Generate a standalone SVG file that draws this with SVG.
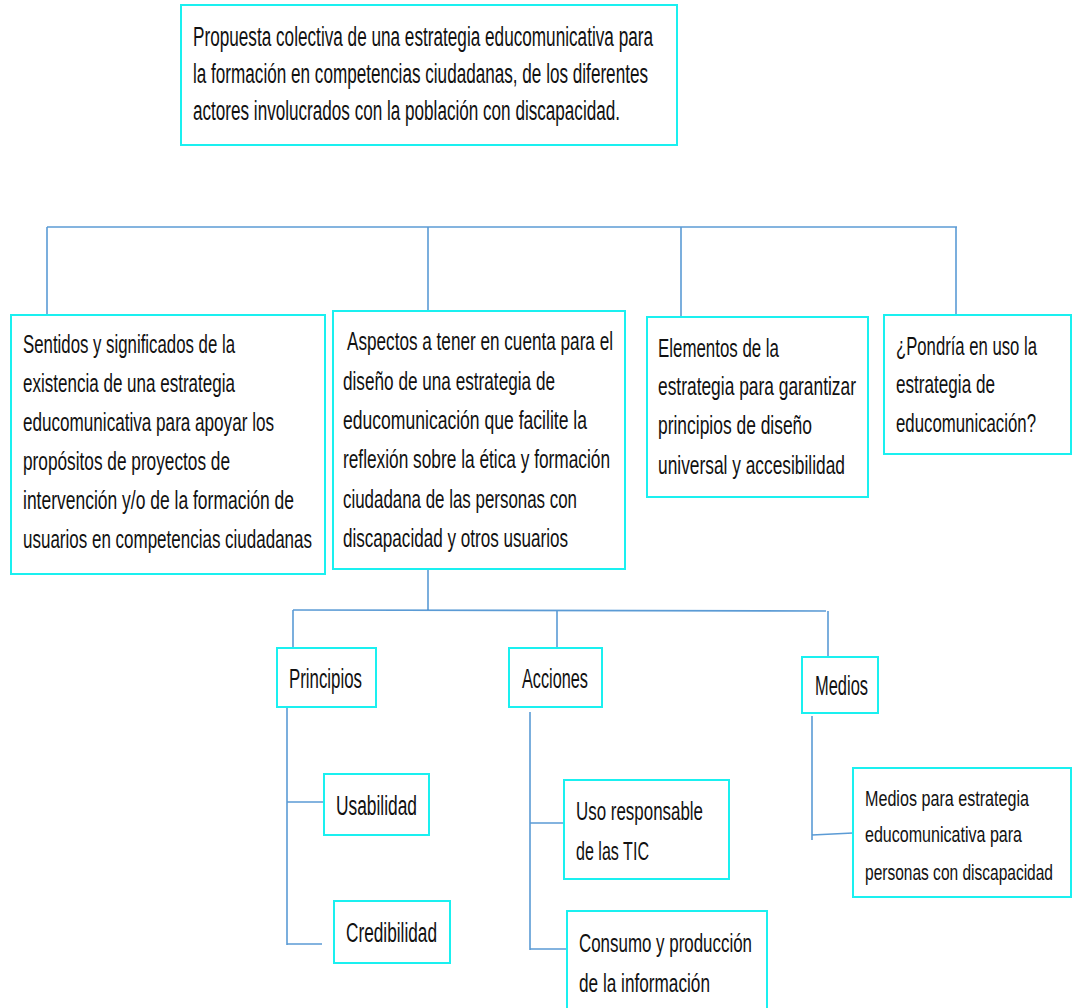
<svg xmlns="http://www.w3.org/2000/svg" width="1073" height="1008" viewBox="0 0 1073 1008">
<style>
.box{fill:#ffffff;stroke:#1AF0F0;stroke-width:2}
.c{fill:none;stroke:#5B9BD5;stroke-width:1.6}
text{font-family:"Liberation Sans",Arial,sans-serif;fill:#111111}
.t27{font-size:27px}
.t26{font-size:26px}
.t22{font-size:22px}
</style>
<rect width="1073" height="1008" fill="#ffffff"/>
<g id="connectors">
<path class="c" d="M47 227H957"/>
<path class="c" d="M47 227V315M428 227V311M681 227V317M956 227V315"/>
<path class="c" d="M428 569V610M293 610L826 611"/>
<path class="c" d="M293 610V648M557 610V648M828 611V657"/>
<path class="c" d="M287 707V945M287 802H324M287 944H322"/>
<path class="c" d="M530 712V950M530 823H564M530 949H566"/>
<path class="c" d="M812 716V840M812 835L853 833"/>
</g>
<g id="node-top">
<rect class="box" x="181" y="5" width="496" height="140"/>
<text class="t27" lengthAdjust="spacingAndGlyphs"><tspan x="193" y="46" textLength="460" lengthAdjust="spacingAndGlyphs">Propuesta colectiva de una estrategia educomunicativa para</tspan></text>
<text class="t27" x="193" y="83" textLength="455" lengthAdjust="spacingAndGlyphs">la formación en competencias ciudadanas, de los diferentes</text>
<text class="t27" x="193" y="120" textLength="427" lengthAdjust="spacingAndGlyphs">actores involucrados con la población con discapacidad.</text>
</g>
<g id="node-sentidos">
<rect class="box" x="11" y="315" width="314" height="259"/>
<text class="t26" x="23" y="353" textLength="212" lengthAdjust="spacingAndGlyphs">Sentidos y significados de la</text>
<text class="t26" x="23" y="392" textLength="212" lengthAdjust="spacingAndGlyphs">existencia de una estrategia</text>
<text class="t26" x="23" y="431" textLength="251" lengthAdjust="spacingAndGlyphs">educomunicativa para apoyar los</text>
<text class="t26" x="23" y="470" textLength="207" lengthAdjust="spacingAndGlyphs">propósitos de proyectos de</text>
<text class="t26" x="23" y="509" textLength="271" lengthAdjust="spacingAndGlyphs">intervención y/o de la formación de</text>
<text class="t26" x="23" y="548" textLength="289" lengthAdjust="spacingAndGlyphs">usuarios en competencias ciudadanas</text>
</g>
<g id="node-aspectos">
<rect class="box" x="333" y="311" width="292" height="258"/>
<text class="t26" x="347" y="350" textLength="266" lengthAdjust="spacingAndGlyphs">Aspectos a tener en cuenta para el</text>
<text class="t26" x="343" y="390" textLength="212" lengthAdjust="spacingAndGlyphs">diseño de una estrategia de</text>
<text class="t26" x="343" y="429" textLength="244" lengthAdjust="spacingAndGlyphs">educomunicación  que facilite la</text>
<text class="t26" x="343" y="468" textLength="267" lengthAdjust="spacingAndGlyphs">reflexión sobre la ética y formación</text>
<text class="t26" x="343" y="508" textLength="234" lengthAdjust="spacingAndGlyphs">ciudadana de las personas con</text>
<text class="t26" x="343" y="547" textLength="225" lengthAdjust="spacingAndGlyphs">discapacidad y otros  usuarios</text>
</g>
<g id="node-elementos">
<rect class="box" x="647" y="317" width="221" height="180"/>
<text class="t26" x="658" y="357" textLength="121" lengthAdjust="spacingAndGlyphs">Elementos de la</text>
<text class="t26" x="658" y="395" textLength="198" lengthAdjust="spacingAndGlyphs">estrategia para garantizar</text>
<text class="t26" x="658" y="434" textLength="154" lengthAdjust="spacingAndGlyphs">principios de diseño</text>
<text class="t26" x="658" y="474" textLength="187" lengthAdjust="spacingAndGlyphs">universal y accesibilidad</text>
</g>
<g id="node-pondria">
<rect class="box" x="884" y="315" width="187" height="139"/>
<text class="t26" x="896" y="355" textLength="141" lengthAdjust="spacingAndGlyphs">¿Pondría  en uso la</text>
<text class="t26" x="896" y="393" textLength="99" lengthAdjust="spacingAndGlyphs">estrategia de</text>
<text class="t26" x="896" y="432" textLength="140" lengthAdjust="spacingAndGlyphs">educomunicación?</text>
</g>
<g id="node-principios">
<rect class="box" x="277" y="648" width="99" height="59"/>
<text class="t27" x="289" y="688" textLength="73" lengthAdjust="spacingAndGlyphs">Principios</text>
</g>
<g id="node-acciones">
<rect class="box" x="509" y="648" width="93" height="59"/>
<text class="t27" x="522" y="688" textLength="66" lengthAdjust="spacingAndGlyphs">Acciones</text>
</g>
<g id="node-medios">
<rect class="box" x="802" y="657" width="76" height="56"/>
<text class="t27" x="815" y="695" textLength="53" lengthAdjust="spacingAndGlyphs">Medios</text>
</g>
<g id="node-usabilidad">
<rect class="box" x="324" y="774" width="105" height="61"/>
<text class="t27" x="336" y="815" textLength="81" lengthAdjust="spacingAndGlyphs">Usabilidad</text>
</g>
<g id="node-credibilidad">
<rect class="box" x="334" y="901" width="116" height="62"/>
<text class="t27" x="346" y="942" textLength="91" lengthAdjust="spacingAndGlyphs">Credibilidad</text>
</g>
<g id="node-uso">
<rect class="box" x="564" y="780" width="165" height="99"/>
<text class="t26" x="576" y="820" textLength="127" lengthAdjust="spacingAndGlyphs">Uso responsable</text>
<text class="t26" x="576" y="860" textLength="73" lengthAdjust="spacingAndGlyphs">de las TIC</text>
</g>
<g id="node-consumo">
<rect class="box" x="567" y="911" width="200" height="99"/>
<text class="t26" x="579" y="952" textLength="173" lengthAdjust="spacingAndGlyphs">Consumo y producción</text>
<text class="t26" x="579" y="992" textLength="131" lengthAdjust="spacingAndGlyphs">de la información</text>
</g>
<g id="node-medios-para">
<rect class="box" x="853" y="768" width="218" height="129"/>
<text class="t22" x="865" y="806" textLength="164" lengthAdjust="spacingAndGlyphs">Medios para estrategia</text>
<text class="t22" x="865" y="842" textLength="157" lengthAdjust="spacingAndGlyphs">educomunicativa para</text>
<text class="t22" x="865" y="880" textLength="188" lengthAdjust="spacingAndGlyphs">personas con discapacidad</text>
</g>
</svg>
